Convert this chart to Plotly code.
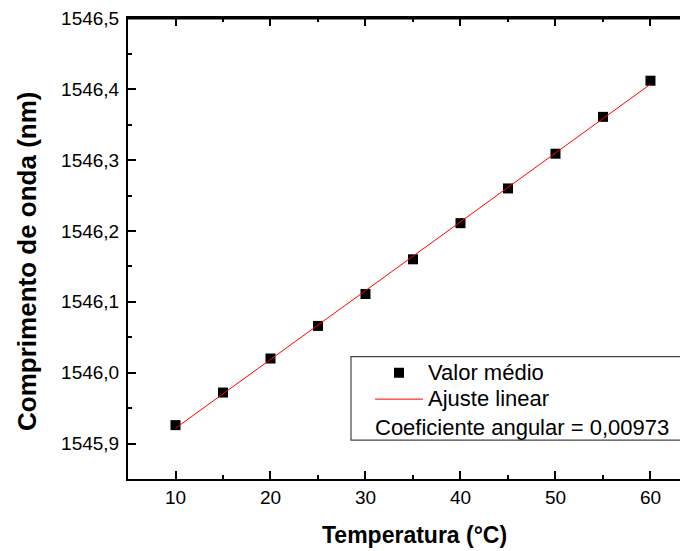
import numpy as np
import plotly.graph_objects as go

temperatura = [10, 15, 20, 25, 30, 35, 40, 45, 50, 55, 60]
comprimento = [1545.926, 1545.972, 1546.020, 1546.066, 1546.111, 1546.160,
               1546.211, 1546.260, 1546.309, 1546.361, 1546.412]
coef_label = "Coeficiente angular = 0,00973"

slope, intercept = np.polyfit(temperatura, comprimento, 1)
fit_x = [temperatura[0], temperatura[-1]]
fit_y = [intercept + slope * x for x in fit_x]

FONT = "Liberation Sans, Arial, sans-serif"
LEG = '<span style="font-size:22px">%s</span>'

fig = go.Figure()
fig.add_trace(go.Scatter(x=temperatura, y=comprimento, mode="markers", name=LEG % "Valor médio",
                         marker=dict(symbol="square", size=10, color="black")))
fig.add_trace(go.Scatter(x=fit_x, y=fit_y, mode="lines", name=LEG % "Ajuste linear",
                         line=dict(color="red", width=1)))
# invisible companion trace so the top axis is drawn
fig.add_trace(go.Scatter(x=fit_x, y=fit_y, xaxis="x2", mode="lines", showlegend=False,
                         hoverinfo="skip", line=dict(color="rgba(0,0,0,0)", width=0)))

OFF = 8  # page body margin
L, R, T, B = 128 - OFF, 688 - OFF, 16 - OFF, 479 - OFF
W, H = 688 - OFF, 551 - OFF

def px(xp):
    return (xp - OFF - L) / (R - L)

def py(yp):
    return 1 - (yp - OFF - T) / (B - T)

XRANGE = [5, 63.95]
xticks = dict(range=XRANGE, tickvals=[10, 20, 30, 40, 50, 60],
              ticks="inside", ticklen=8, tickwidth=1.5, tickcolor="black",
              minor=dict(tickvals=[5, 15, 25, 35, 45, 55], ticks="inside", ticklen=4,
                         tickwidth=1.5, tickcolor="black"),
              showline=True, linecolor="black", linewidth=2,
              showgrid=False, zeroline=False)

fig.update_layout(
    width=W, height=H,
    margin=dict(l=L, r=W - R, t=T, b=H - B),
    plot_bgcolor="white", paper_bgcolor="white",
    separators=",.",
    font=dict(family=FONT, size=19, color="black"),
    showlegend=True,
    legend=dict(x=px(370), y=py(354), xanchor="left", yanchor="top",
                bgcolor="rgba(0,0,0,0)", borderwidth=0,
                font=dict(size=18), itemwidth=48, tracegroupgap=0),
    xaxis=dict(**xticks, tickfont=dict(size=19)),
    xaxis2=dict(**xticks, overlaying="x", side="top", showticklabels=False),
    yaxis=dict(range=[1545.85, 1546.5005], tickvals=[1545.9, 1546.0, 1546.1, 1546.2, 1546.3, 1546.4, 1546.5],
               tickformat=".1f", ticklabeloverflow="allow", ticklabelstandoff=3,
               ticks="inside", ticklen=8, tickwidth=1.5, tickcolor="black",
               minor=dict(tickvals=[1545.95, 1546.05, 1546.15, 1546.25, 1546.35, 1546.45],
                          ticks="inside", ticklen=4, tickwidth=1.5, tickcolor="black"),
               showline=True, linecolor="black", linewidth=2, mirror=False,
               showgrid=False, zeroline=False, tickfont=dict(size=19)),
)

fig.add_shape(type="line", xref="paper", yref="paper", x0=0, x1=1, y0=0.999, y1=0.999,
              line=dict(color="black", width=2))

fig.add_shape(type="rect", xref="paper", yref="paper",
              x0=px(351), x1=px(683), y0=py(440), y1=py(356),
              line=dict(color="#444444", width=1.2), fillcolor="rgba(0,0,0,0)")

fig.add_annotation(text=coef_label, xref="paper", yref="paper",
                   x=px(373), y=py(427), xanchor="left", yanchor="middle",
                   showarrow=False, font=dict(size=22))

fig.add_annotation(text="<b>Temperatura (°C)</b>", xref="paper", yref="paper",
                   x=px(414), y=py(535), xanchor="center", yanchor="middle",
                   showarrow=False, font=dict(size=23))
fig.add_annotation(text="<b>Comprimento de onda (nm)</b>", xref="paper", yref="paper",
                   x=px(27.5), y=py(260.5), xanchor="center", yanchor="middle",
                   textangle=-90, showarrow=False, font=dict(size=26))

fig.write_html("out.html")
